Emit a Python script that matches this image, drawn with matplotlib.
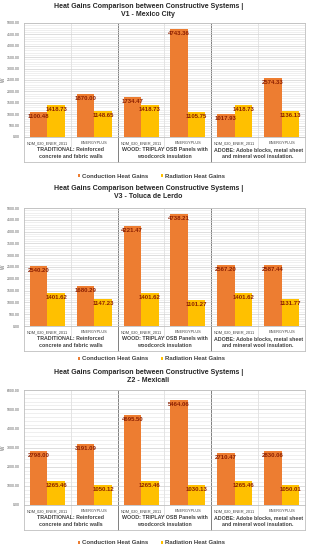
import matplotlib

matplotlib.use("Agg")
import matplotlib.pyplot as plt
import numpy as np
from matplotlib.ticker import MultipleLocator

plt.rcParams["font.family"] = ["Liberation Sans", "DejaVu Sans"]

categories = ["NOM_020_ENER_2011", "ENERGYPLUS"] * 3
groups = [
	"TRADITIONAL: Reinforced\nconcrete and fabric walls",
	"WOOD: TRIPLAY OSB Panels with\nwoodcorck insulation",
	"ADOBE: Adobe blocks, metal sheet\nand mineral wool insulation.",
]
series_names = ["Conduction Heat Gains", "Radiation Heat Gains"]

titles = [
	"Heat Gains Comparison between Constructive Systems |\nV1 - Mexico City",
	"Heat Gains Comparison between Constructive Systems |\nV3 - Toluca de Lerdo",
	"Heat Gains Comparison between Constructive Systems |\nZ2 - Mexicali",
]

conduction_v1 = [1100.48, 1870.00, 1734.47, 4743.36, 1017.93, 2574.33]
radiation_v1 = [1418.73, 1148.65, 1418.73, 1105.75, 1418.73, 1136.13]

conduction_v3 = [2540.20, 1680.29, 4221.47, 4738.21, 2567.20, 2587.44]
radiation_v3 = [1401.62, 1147.23, 1401.62, 1101.27, 1401.62, 1131.77]

conduction_z2 = [2798.00, 3191.09, 4695.50, 5464.06, 2710.47, 2830.06]
radiation_z2 = [1265.46, 1050.12, 1265.46, 1030.13, 1265.46, 1050.01]

ymax = [5000, 5000, 6000]
ystep = [500, 500, 1000]

ORANGE = "#ED7D31"
YELLOW = "#FFC000"
LABEL = "#8B1E00"
W, H = 309, 550

# pixel boxes: (top of axes, bottom of axes, title centre, legend centre)
layout = [(23, 137, 10, 176), (208, 326, 193, 359), (390, 505, 376, 543)]
left, right = 24, 305


def draw_panel(fig, top, bottom, title_y, legend_y, title, cond, rad, top_val, step):
	ax = fig.add_axes([left / W, 1 - bottom / H, (right - left) / W, (bottom - top) / H])
	x = np.arange(len(categories))
	bw = 0.375
	b1 = ax.bar(x - bw / 2, cond, bw, color=ORANGE, zorder=3, label=series_names[0])
	b2 = ax.bar(x + bw / 2, rad, bw, color=YELLOW, zorder=3, label=series_names[1])
	for bars in (b1, b2):
		ax.bar_label(bars, fmt="%.2f", padding=-5, fontsize=4.3, fontweight="bold", color=LABEL, zorder=4)

	ax.set_xlim(-0.5, len(categories) - 0.5)
	ax.set_ylim(0, top_val)
	ax.yaxis.set_major_locator(MultipleLocator(step))
	ax.yaxis.set_minor_locator(MultipleLocator(step / 5))
	ax.yaxis.set_major_formatter(lambda v, p: f"{v:.2f}")
	ax.grid(axis="y", which="major", color="#D0D0D0", linewidth=0.5, zorder=0)
	ax.grid(axis="y", which="minor", color="#E3E3E3", linewidth=0.4, zorder=0)
	ax.tick_params(axis="y", which="both", length=0, labelsize=2.5, labelcolor="#595959", pad=3)
	ax.set_xticks([])
	for s in ax.spines.values():
		s.set_color("#BFBFBF")
		s.set_linewidth(0.6)
	fig.text(3 / W, 1 - (top + bottom) / 2 / H, "W", rotation=90, ha="center", va="center", fontsize=3.3,
		color="#595959")

	depth = 25 / (bottom - top)
	trans = ax.get_xaxis_transform()
	for i, c in enumerate(categories):
		ax.text(i, -6 / (bottom - top), c, transform=trans, ha="center", va="center", fontsize=2.8, color="#404040")
	for g, name in enumerate(groups):
		ax.text(2 * g + 0.5, -16 / (bottom - top), name, transform=trans, ha="center", va="center",
			fontsize=3.8, fontweight="bold", color="#404040", linespacing=1.3)
	for xs in (0.5, 2.5, 4.5):
		ax.plot([xs, xs], [1, -11 / (bottom - top)], transform=trans, color="#D9D9D9", lw=0.5, clip_on=False, zorder=1)
	for xs in (1.5, 3.5):
		ax.plot([xs, xs], [1, -depth], transform=trans, color="#7F7F7F", lw=0.7, clip_on=False, zorder=1)
	for xs in (-0.5, 5.5):
		ax.plot([xs, xs], [0, -depth], transform=trans, color="#BFBFBF", lw=0.6, clip_on=False, zorder=1)
	ax.plot([-0.5, 5.5], [-depth, -depth], transform=trans, color="#BFBFBF", lw=0.6, clip_on=False, zorder=1)

	fig.text(0.48, 1 - title_y / H, title, ha="center", va="center", fontsize=5.0, fontweight="bold",
		color="#262626", linespacing=1.2)
	fig.legend(handles=[b1, b2], loc="center", bbox_to_anchor=(0.49, 1 - legend_y / H), ncol=2, frameon=False,
		prop={"weight": "bold", "size": 4.3}, handlelength=0.4, handleheight=0.4, columnspacing=2.2,
		handletextpad=0.3, labelcolor="#404040")


def main():
	fig = plt.figure(figsize=(W / 100, H / 100), dpi=100)
	data = [(conduction_v1, radiation_v1), (conduction_v3, radiation_v3), (conduction_z2, radiation_z2)]
	for (top, bottom, ty, ly), title, (cond, rad), tv, st in zip(layout, titles, data, ymax, ystep):
		draw_panel(fig, top, bottom, ty, ly, title, cond, rad, tv, st)
	fig.savefig("out.png", dpi=100, facecolor="white")


if __name__ == "__main__":
	main()
